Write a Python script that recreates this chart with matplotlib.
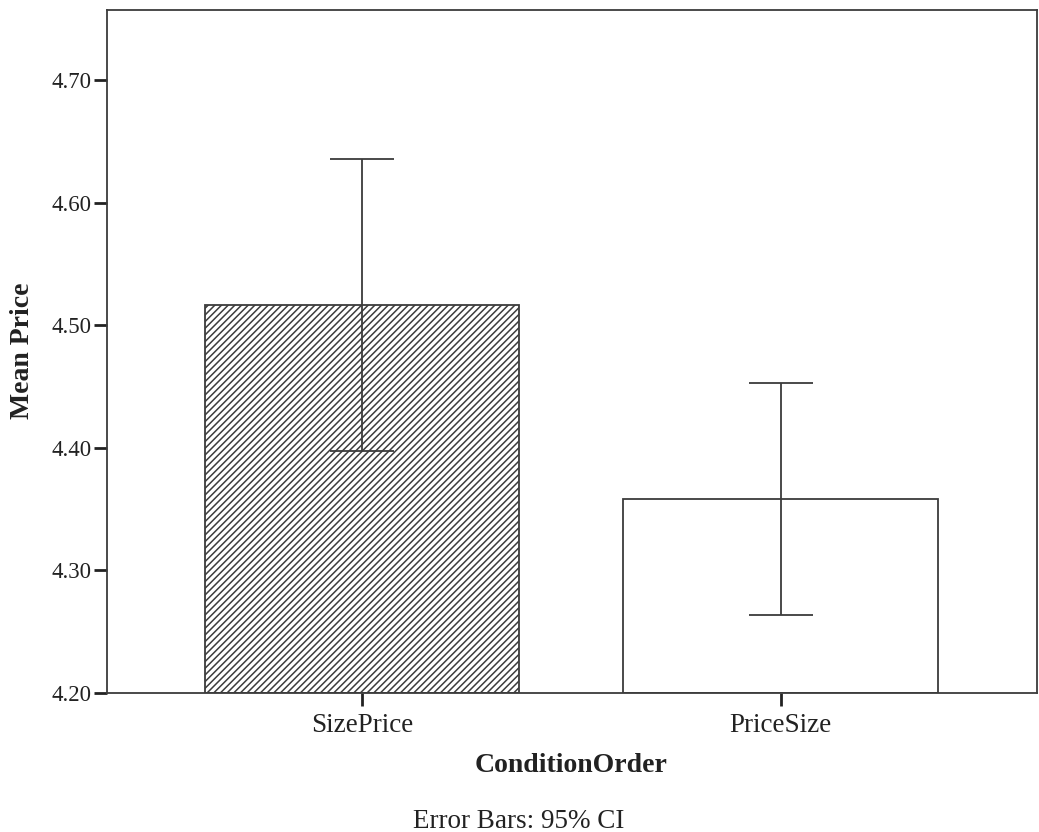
import matplotlib
matplotlib.use("Agg")
import matplotlib.pyplot as plt

plt.rcParams["font.family"] = ["Liberation Serif", "DejaVu Serif"]
plt.rcParams["hatch.linewidth"] = 1.1
plt.rcParams["hatch.color"] = "#3c3c3c"

categories = ["SizePrice", "PriceSize"]
means = [4.5165, 4.3582]
ci_low = [4.3974, 4.2636]
ci_high = [4.6356, 4.4529]
hatches = ["/////", ""]

LINE = "#3c3c3c"
TXT = "#222222"

fig = plt.figure(figsize=(10.39, 8.32), dpi=100)
# axes box in pixels: x 106.5..1036.5, y 10..693
ax = fig.add_axes([106.5 / 1039, 1 - 693 / 832, 930 / 1039, 683 / 832])

x = list(range(len(categories)))
base = 4.20
ax.bar(x, [m - base for m in means], width=0.7515, bottom=base,
       color="white", edgecolor=LINE, linewidth=1.3, hatch=hatches, zorder=2)
yerr = [[m - lo for m, lo in zip(means, ci_low)], [hi - m for m, hi in zip(means, ci_high)]]
ax.errorbar(x, means, yerr=yerr, fmt="none", ecolor=LINE, elinewidth=1.3,
            capsize=23, capthick=1.3, zorder=3)

ax.set_xlim(-0.6105, 1.6115)
ax.set_ylim(4.20, 4.757)
yt = [4.20, 4.30, 4.40, 4.50, 4.60, 4.70]
ax.set_yticks(yt)
ax.set_yticklabels([f"{v:.2f}" for v in yt])
ax.set_xticks(x)
ax.set_xticklabels(categories)

for s in ax.spines.values():
    s.set_color(LINE)
    s.set_linewidth(1.3)
ax.tick_params(axis="y", length=9.5, width=2, color=TXT, labelsize=16.5, pad=1.5, labelcolor=TXT)
ax.tick_params(axis="x", length=9, width=2, color=TXT, labelsize=19.5, pad=5.5, labelcolor=TXT)

fig.text(571 / 1039, 1 - 766 / 832, "ConditionOrder", ha="center", va="center",
         fontsize=20, fontweight="bold", color=TXT)
fig.text(22.5 / 1039, 1 - 351 / 832, "Mean Price", ha="center", va="center", rotation=90,
         fontsize=20, fontweight="bold", color=TXT)
fig.text(518.5 / 1039, 1 - 821 / 832, "Error Bars: 95% CI", ha="center", va="center",
         fontsize=19.5, color=TXT)

fig.savefig("out.png", dpi=100)
